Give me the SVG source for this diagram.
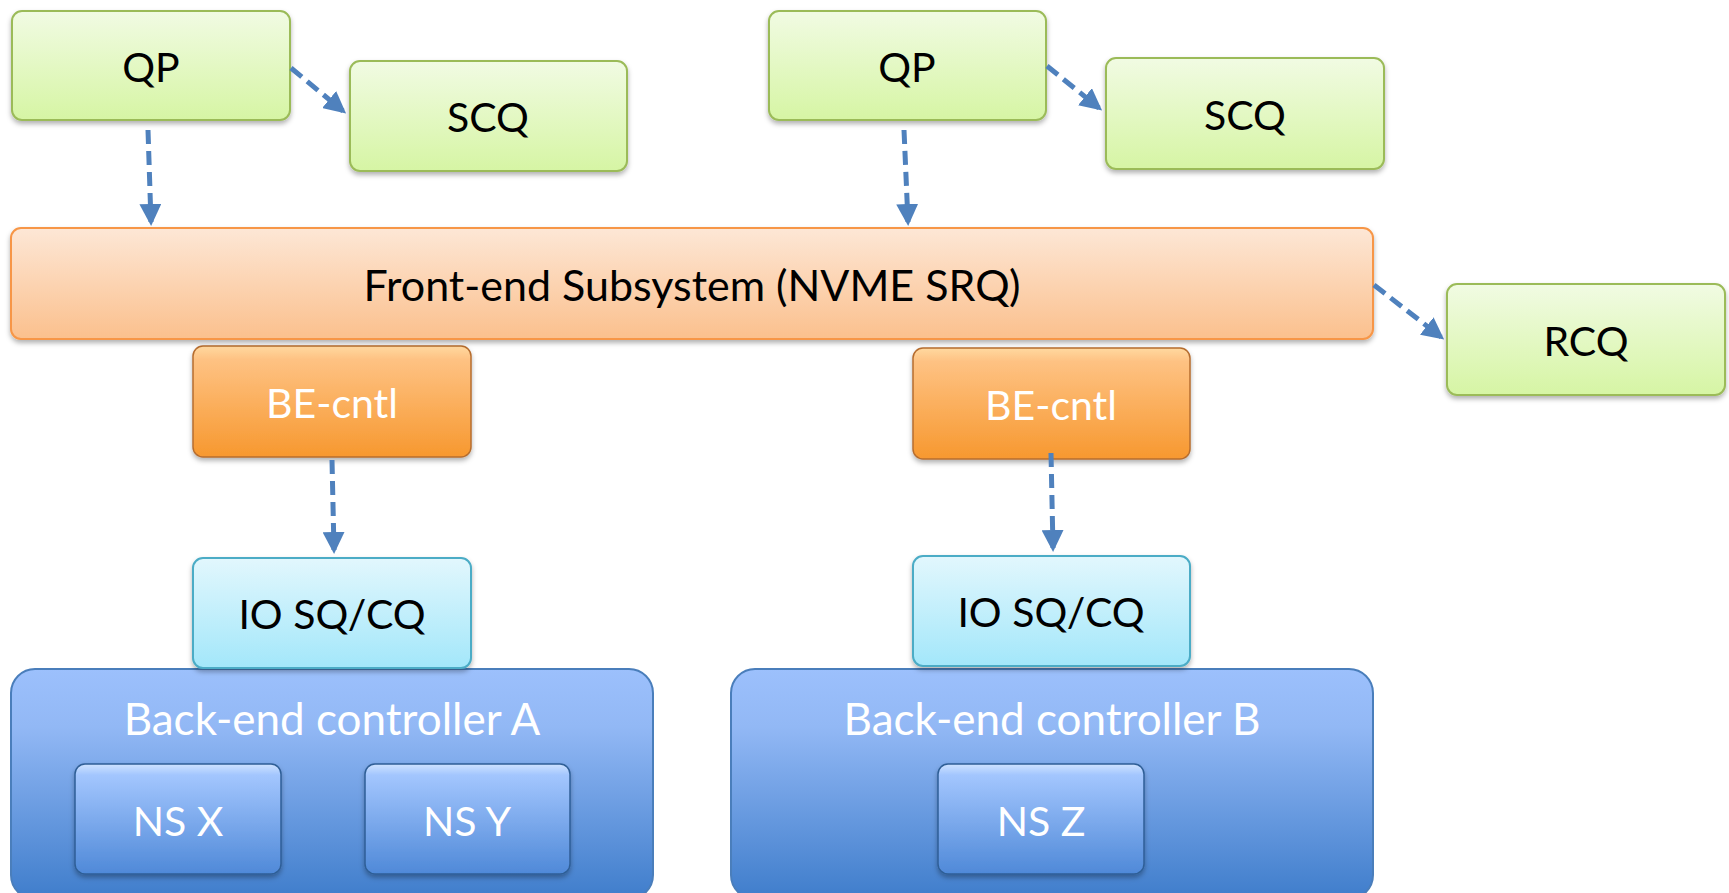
<svg xmlns="http://www.w3.org/2000/svg" width="1729" height="893" viewBox="0 0 1729 893">
  <defs>
    <linearGradient id="gGreen" x1="0" y1="0" x2="0" y2="1">
      <stop offset="0" stop-color="#F1FBE3"/>
      <stop offset="1" stop-color="#D6F5A4"/>
    </linearGradient>
    <linearGradient id="gPeach" x1="0" y1="0" x2="0" y2="1">
      <stop offset="0" stop-color="#FDE7D6"/>
      <stop offset="1" stop-color="#FBC08D"/>
    </linearGradient>
    <linearGradient id="gOrange" x1="0" y1="0" x2="0" y2="1">
      <stop offset="0" stop-color="#FFD9A0"/>
      <stop offset="0.12" stop-color="#FEC283"/>
      <stop offset="1" stop-color="#F7982F"/>
    </linearGradient>
    <linearGradient id="gCyan" x1="0" y1="0" x2="0" y2="1">
      <stop offset="0" stop-color="#E2F7FD"/>
      <stop offset="1" stop-color="#A3E7FA"/>
    </linearGradient>
    <linearGradient id="gBlue" x1="0" y1="0" x2="0" y2="1">
      <stop offset="0" stop-color="#9CC0FC"/>
      <stop offset="0.25" stop-color="#92B8F5"/>
      <stop offset="1" stop-color="#3F7DCB"/>
    </linearGradient>
    <linearGradient id="gNS" x1="0" y1="0" x2="0" y2="1">
      <stop offset="0" stop-color="#CFE3FF"/>
      <stop offset="0.1" stop-color="#A3C6FE"/>
      <stop offset="1" stop-color="#4F89D8"/>
    </linearGradient>
    <filter id="sh" x="-10%" y="-10%" width="120%" height="130%">
      <feDropShadow dx="0" dy="3" stdDeviation="2.5" flood-color="#000" flood-opacity="0.3"/>
    </filter>
    <marker id="arr" markerWidth="4.4" markerHeight="4.4" refX="3.6" refY="2.2" orient="auto" markerUnits="strokeWidth">
      <path d="M0,0 L4.4,2.2 L0,4.4 z" fill="#4F81BD"/>
    </marker>
  </defs>
  <style>
    text { font-family: Lato, "Open Sans", "Liberation Sans", sans-serif; font-size: 41px; text-anchor: middle; dominant-baseline: central; }
    .big { font-size: 43px; }
    .title { font-size: 44px; }
    .dark { fill: #000; }
    .light { fill: #fff; }
    .green { fill: url(#gGreen); stroke: #9BBB59; stroke-width: 2; filter: url(#sh); }
    .peach { fill: url(#gPeach); stroke: #F79646; stroke-width: 2; filter: url(#sh); }
    .orange { fill: url(#gOrange); stroke: #B66D2F; stroke-width: 1.5; filter: url(#sh); }
    .cyan { fill: url(#gCyan); stroke: #4BACC6; stroke-width: 2; filter: url(#sh); }
    .blue { fill: url(#gBlue); stroke: #4A7EBB; stroke-width: 2; }
    .ns { fill: url(#gNS); stroke: #2F5E96; stroke-width: 1.5; filter: url(#sh); }
    .conn { fill: none; stroke: #4F81BD; stroke-width: 5; stroke-dasharray: 14 7; marker-end: url(#arr); }
  </style>

  <g id="be-controller-a">
    <rect class="blue" x="11" y="669" width="642" height="230" rx="24"/>
    <text class="light title" x="332" y="718">Back-end controller A</text>
  </g>
  <g id="be-controller-b">
    <rect class="blue" x="731" y="669" width="642" height="230" rx="24"/>
    <text class="light title" x="1052" y="718">Back-end controller B</text>
  </g>
  <g id="ns-x">
    <rect class="ns" x="75" y="764" width="206" height="110" rx="10"/>
    <text class="light" x="178" y="820">NS X</text>
  </g>
  <g id="ns-y">
    <rect class="ns" x="365" y="764" width="205" height="110" rx="10"/>
    <text class="light" x="467" y="820">NS Y</text>
  </g>
  <g id="ns-z">
    <rect class="ns" x="938" y="764" width="206" height="110" rx="10"/>
    <text class="light" x="1041" y="820">NS Z</text>
  </g>

  <g id="io-a">
    <rect class="cyan" x="193" y="558" width="278" height="110" rx="10"/>
    <text class="dark" x="332" y="613">IO SQ/CQ</text>
  </g>
  <g id="io-b">
    <rect class="cyan" x="913" y="556" width="277" height="110" rx="10"/>
    <text class="dark" x="1051" y="611">IO SQ/CQ</text>
  </g>

  <g id="be-cntl-a">
    <rect class="orange" x="193" y="346" width="278" height="111" rx="10"/>
    <text class="light" x="332" y="402">BE-cntl</text>
  </g>
  <g id="be-cntl-b">
    <rect class="orange" x="913" y="348" width="277" height="111" rx="10"/>
    <text class="light" x="1051" y="404">BE-cntl</text>
  </g>

  <g id="front-end">
    <rect class="peach" x="11" y="228" width="1362" height="111" rx="10"/>
    <text class="dark big" x="692" y="284">Front-end Subsystem (NVME SRQ)</text>
  </g>

  <g id="qp-1">
    <rect class="green" x="12" y="11" width="278" height="109" rx="10"/>
    <text class="dark" x="151" y="66">QP</text>
  </g>
  <g id="scq-1">
    <rect class="green" x="350" y="61" width="277" height="110" rx="10"/>
    <text class="dark" x="488" y="116">SCQ</text>
  </g>
  <g id="qp-2">
    <rect class="green" x="769" y="11" width="277" height="109" rx="10"/>
    <text class="dark" x="907" y="66">QP</text>
  </g>
  <g id="scq-2">
    <rect class="green" x="1106" y="58" width="278" height="111" rx="10"/>
    <text class="dark" x="1245" y="114">SCQ</text>
  </g>
  <g id="rcq">
    <rect class="green" x="1447" y="284" width="278" height="111" rx="10"/>
    <text class="dark" x="1586" y="340">RCQ</text>
  </g>

  <g id="connectors">
    <line class="conn" x1="291" y1="68" x2="343" y2="111"/>
    <line class="conn" x1="148" y1="130" x2="151" y2="222"/>
    <line class="conn" x1="1047" y1="66" x2="1099" y2="108"/>
    <line class="conn" x1="904" y1="130" x2="908" y2="222"/>
    <line class="conn" x1="1374" y1="285" x2="1441" y2="337"/>
    <line class="conn" x1="332" y1="460" x2="334" y2="550"/>
    <line class="conn" x1="1051" y1="453" x2="1053" y2="548"/>
  </g>
</svg>
